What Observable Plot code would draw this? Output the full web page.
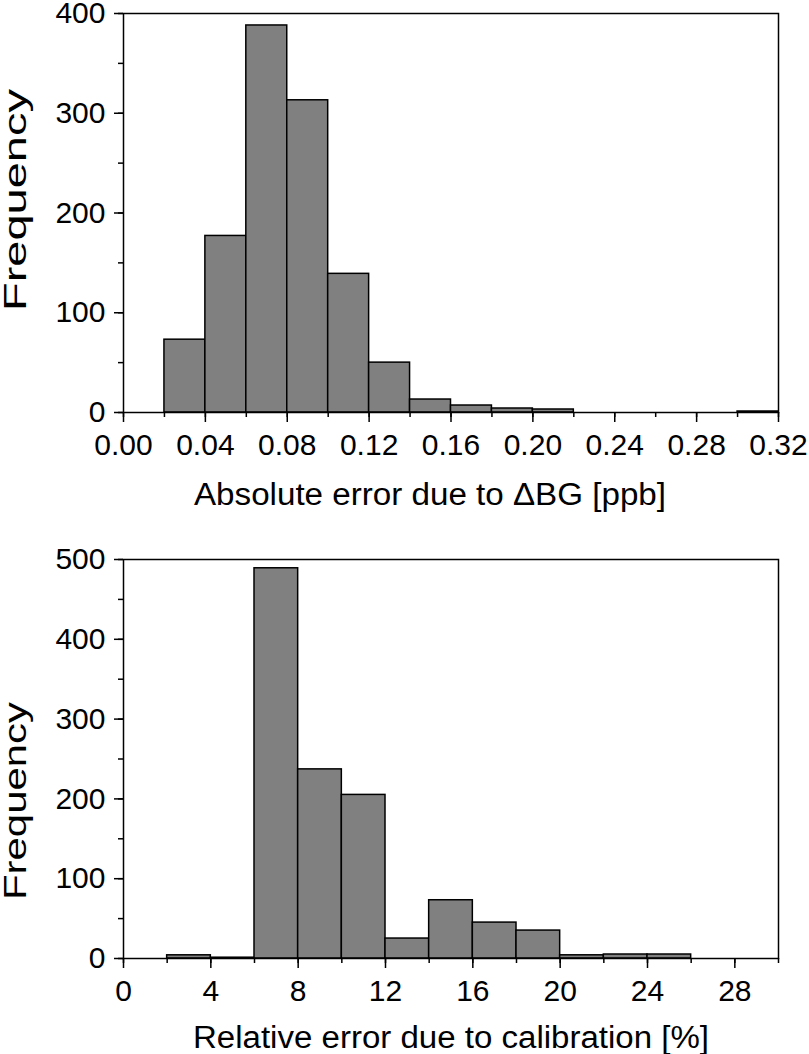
<!DOCTYPE html>
<html><head><meta charset="utf-8">
<script src="https://cdn.jsdelivr.net/npm/d3@7"></script>
<script src="https://cdn.jsdelivr.net/npm/@observablehq/plot@0.6"></script>
<style>
html,body{margin:0;padding:0;background:#fff;}
#chart svg{display:block;}
</style>
</head><body><div id="chart"></div>
<script>
// ---- Top histogram: absolute error due to ΔBG ----
const absBinStarts = [0.00,0.02,0.04,0.06,0.08,0.10,0.12,0.14,0.16,0.18,0.20,0.22,0.24,0.26,0.28,0.30];
const absCounts    = [0,   73,  177, 388, 313, 139, 50,  13,  7,   4,   3,   0,   0,   0,   0,   1];
const absBinWidth = 0.02;
const absMinorTicksX = [0.00,0.02,0.04,0.06,0.08,0.10,0.12,0.14,0.16,0.18,0.20,0.22,0.24,0.26,0.28,0.30,0.32];
const absMajorTicksX = [0.00,0.04,0.08,0.12,0.16,0.20,0.24,0.28,0.32];
const absMinorTicksY = [0,50,100,150,200,250,300,350,400];
const absMajorTicksY = [0,100,200,300,400];
const absTitle = "Absolute error due to \u0394BG [ppb]";

// ---- Bottom histogram: relative error due to calibration ----
const relBinStarts = [0,2,4,6,8,10,12,14,16,18,20,22,24,26,28];
const relCounts    = [0,4,1,489,237,205,25,73,45,35,4,5,5,0,0];
const relBinWidth = 2;
const relMinorTicksX = [0,2,4,6,8,10,12,14,16,18,20,22,24,26,28,30];
const relMajorTicksX = [0,4,8,12,16,20,24,28];
const relMinorTicksY = [0,50,100,150,200,250,300,350,400,450,500];
const relMajorTicksY = [0,100,200,300,400,500];
const relTitle = "Relative error due to calibration [%]";

const yTitle = "Frequency";
const FONT = "'Liberation Sans', Arial, Helvetica, sans-serif";

function histogram(cfg) {
  const rows = cfg.starts.map((s, i) => ({x1: s, x2: s + cfg.width, count: cfg.counts[i]}));
  const svg = Plot.plot({
    width: 809,
    height: 527,
    marginTop: cfg.marginTop,
    marginBottom: cfg.marginBottom,
    marginLeft: 123,
    marginRight: 31,
    style: {fontFamily: FONT, fontSize: "30px", background: "#fff", color: "#000", overflow: "visible"},
    x: {domain: cfg.xDomain, label: null},
    y: {domain: cfg.yDomain, label: null},
    marks: [
      Plot.rectY(rows, {x1: "x1", x2: "x2", y: "count", fill: "#808080", stroke: "#000", strokeWidth: 1.5}),
      Plot.axisX({ticks: cfg.minorX, tickSize: 5, tickFormat: () => "", strokeWidth: 1.5, label: null}),
      Plot.axisX({ticks: cfg.majorX, tickSize: 10, tickPadding: 11, tickFormat: cfg.fmtX, strokeWidth: 1.5, label: null, fontSize: 30}),
      Plot.axisY({ticks: cfg.minorY, tickSize: 5, tickFormat: () => "", strokeWidth: 1.5, label: null}),
      Plot.axisY({ticks: cfg.majorY, tickSize: 9, tickPadding: 9, tickFormat: d => String(d), strokeWidth: 1.5, label: null, fontSize: 30}),
      Plot.frame({stroke: "#000", strokeWidth: 1.5}),
      Plot.text([cfg.title], {frameAnchor: "bottom", textAnchor: "middle", lineAnchor: "bottom", dx: cfg.titleDx, dy: cfg.titleDy, fontSize: 31, fill: "#000", className: "xtitle"}),
      Plot.text([yTitle], {frameAnchor: "left", textAnchor: "middle", lineAnchor: "bottom", rotate: -90, dx: -98, dy: cfg.yTitleDy, fontSize: 31, fill: "#000", className: "ytitle"})
    ]
  });
  d3.select(svg).selectAll(".xtitle text").attr("textLength", cfg.titleLen).attr("lengthAdjust", "spacingAndGlyphs");
  d3.select(svg).selectAll(".ytitle text").attr("textLength", cfg.yTitleLen).attr("lengthAdjust", "spacingAndGlyphs");
  return svg;
}

const chart = document.getElementById("chart");
chart.appendChild(histogram({
  starts: absBinStarts, counts: absCounts, width: absBinWidth,
  xDomain: [0, 0.32], yDomain: [0, 400],
  minorX: absMinorTicksX, majorX: absMajorTicksX, minorY: absMinorTicksY, majorY: absMajorTicksY,
  fmtX: d3.format(".2f"),
  marginTop: 13, marginBottom: 115,
  title: absTitle, titleDx: -21, titleDy: 92, titleLen: 472,
  yTitleDy: -13, yTitleLen: 222
}));
chart.appendChild(histogram({
  starts: relBinStarts, counts: relCounts, width: relBinWidth,
  xDomain: [0, 30], yDomain: [0, 500],
  minorX: relMinorTicksX, majorX: relMajorTicksX, minorY: relMinorTicksY, majorY: relMajorTicksY,
  fmtX: d => String(d),
  marginTop: 32, marginBottom: 96,
  title: relTitle, titleDx: 0, titleDy: 89, titleLen: 516,
  yTitleDy: 42, yTitleLen: 198
}));
</script>
</body></html>
